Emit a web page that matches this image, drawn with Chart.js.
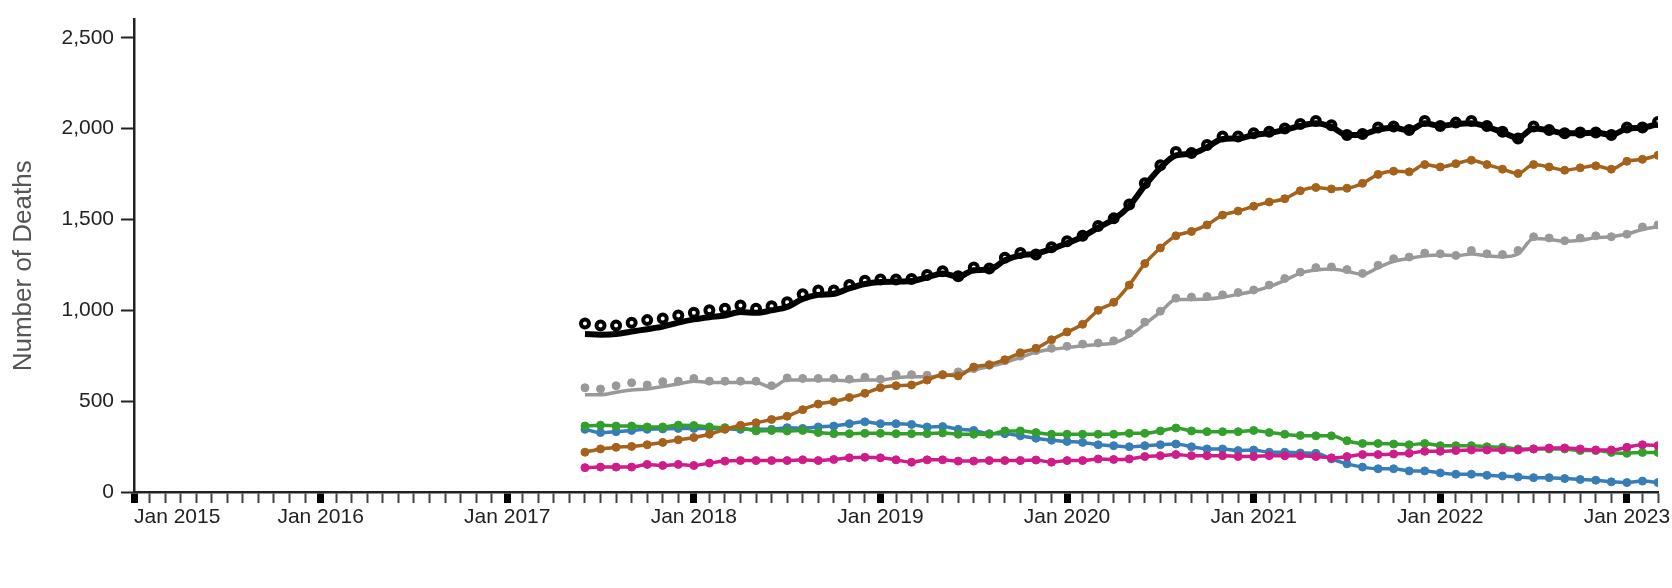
<!DOCTYPE html>
<html>
<head>
<meta charset="utf-8">
<script src="https://cdn.jsdelivr.net/npm/chart.js@4.4.1/dist/chart.umd.min.js"></script>
<style>
  html, body { margin: 0; padding: 0; background: #fff; }
  #wrap { width: 1672px; height: 588px; }
</style>
</head>
<body>
<div id="wrap"><canvas id="chart" width="1672" height="588"></canvas></div>
<script>
/* monthly deaths, Jun 2017 - Mar 2023 */

const months = [
  "2017-06","2017-07","2017-08","2017-09","2017-10","2017-11","2017-12",
  "2018-01","2018-02","2018-03","2018-04","2018-05","2018-06","2018-07","2018-08","2018-09","2018-10","2018-11","2018-12",
  "2019-01","2019-02","2019-03","2019-04","2019-05","2019-06","2019-07","2019-08","2019-09","2019-10","2019-11","2019-12",
  "2020-01","2020-02","2020-03","2020-04","2020-05","2020-06","2020-07","2020-08","2020-09","2020-10","2020-11","2020-12",
  "2021-01","2021-02","2021-03","2021-04","2021-05","2021-06","2021-07","2021-08","2021-09","2021-10","2021-11","2021-12",
  "2022-01","2022-02","2022-03","2022-04","2022-05","2022-06","2022-07","2022-08","2022-09","2022-10","2022-11","2022-12",
  "2023-01","2023-02","2023-03"
];

const totalReported = [
  928, 917, 917, 932, 946, 955, 971, 986, 1000, 1008, 1026, 1008, 1022, 1044, 1089, 1109, 1109, 1139, 1163, 1170, 1170, 1172, 1194, 1215,
  1188, 1235, 1230, 1289, 1315, 1307, 1347, 1380, 1410, 1464, 1506, 1582, 1699, 1798, 1871, 1866, 1910, 1957, 1957, 1975, 1983, 2001, 2025,
  2042, 2019, 1965, 1970, 2006, 2011, 1993, 2042, 2015, 2033, 2042, 2015, 1983, 1946, 2011, 1992, 1975, 1979, 1979, 1965, 2006, 2006, 2037
];
const totalPredicted = [
  869, 866, 869, 883, 896, 910, 932, 950, 962, 971, 990, 986, 1000, 1018, 1062, 1085, 1091, 1121, 1145, 1156, 1158, 1161, 1181, 1203,
  1185, 1221, 1224, 1275, 1302, 1311, 1338, 1369, 1405, 1455, 1501, 1573, 1686, 1784, 1853, 1862, 1898, 1943, 1946, 1965, 1975, 1993, 2015,
  2030, 2010, 1965, 1968, 1995, 2005, 1990, 2030, 2015, 2025, 2030, 2010, 1980, 1950, 2000, 1990, 1975, 1975, 1978, 1965, 2000, 2005, 2025
];
const brownSeries = [
  219, 237, 246, 251, 260, 273, 287, 300, 318, 345, 367, 381, 399, 417, 453, 484, 498, 520, 543, 574, 585, 589, 616, 645,
  639, 688, 701, 728, 766, 791, 838, 881, 923, 1000, 1044, 1139, 1257, 1343, 1410, 1434, 1470, 1524, 1546, 1573, 1596, 1614, 1658,
  1676, 1668, 1672, 1699, 1748, 1766, 1762, 1802, 1789, 1807, 1826, 1802, 1777, 1753, 1802, 1789, 1771, 1784, 1795, 1777, 1820, 1831, 1853
];
const grayReported = [
  574, 567, 585, 601, 589, 607, 610, 625, 610, 610, 610, 610, 585, 628, 625, 625, 625, 621, 632, 621, 646, 646, 643, 646,
  661, 679, 697, 722, 748, 778, 791, 802, 814, 820, 832, 874, 935, 995, 1067, 1073, 1076, 1085, 1098, 1112, 1139, 1175, 1210,
  1235, 1239, 1224, 1203, 1248, 1284, 1293, 1315, 1311, 1302, 1329, 1311, 1307, 1329, 1405, 1398, 1383, 1398, 1410, 1405, 1419, 1459, 1470
];
const grayPredicted = [
  535, 535, 549, 562, 567, 580, 594, 610, 603, 603, 603, 603, 576, 616, 616, 616, 616, 612, 616, 616, 628, 634, 634, 638,
  655, 672, 690, 712, 740, 770, 785, 795, 805, 812, 820, 860, 925, 990, 1060, 1060, 1062, 1072, 1088, 1105, 1130, 1165, 1205,
  1222, 1228, 1215, 1198, 1235, 1270, 1285, 1300, 1305, 1300, 1310, 1300, 1295, 1310, 1395, 1390, 1380, 1385, 1400, 1405, 1420, 1445, 1460
];
const greenSeries = [
  363, 368, 363, 363, 358, 358, 368, 366, 358, 354, 354, 336, 339, 336, 339, 327, 321, 321, 323, 323, 321, 321, 321, 325,
  318, 318, 318, 336, 336, 327, 318, 318, 318, 318, 318, 323, 323, 336, 352, 336, 332, 332, 332, 339, 327, 318, 311,
  309, 309, 282, 267, 267, 264, 260, 267, 255, 255, 255, 249, 246, 237, 237, 237, 237, 228, 228, 218, 213, 218, 218
];
const blueSeries = [
  345, 327, 332, 339, 345, 347, 350, 350, 350, 347, 345, 345, 345, 354, 350, 358, 363, 376, 386, 376, 376, 372, 358, 360,
  345, 339, 321, 321, 309, 296, 285, 278, 273, 260, 255, 249, 255, 260, 264, 249, 237, 237, 228, 231, 219, 219, 215,
  213, 182, 155, 137, 128, 128, 116, 116, 105, 98, 98, 92, 88, 83, 79, 79, 74, 69, 65, 56, 52, 60, 52
];
const pinkSeries = [
  134, 137, 137, 137, 152, 146, 152, 146, 159, 170, 173, 173, 173, 173, 177, 173, 179, 188, 191, 188, 177, 164, 177, 177,
  170, 170, 173, 173, 173, 176, 164, 173, 173, 182, 179, 182, 195, 200, 206, 200, 200, 200, 195, 195, 200, 200, 200,
  195, 188, 195, 206, 206, 209, 213, 224, 224, 228, 231, 231, 231, 231, 237, 242, 242, 237, 231, 231, 246, 260, 255
];

const axisStart = "2015-01";
const axisEnd = "2023-03";
const yTicks = [0, 500, 1000, 1500, 2000, 2500];
const yMax = 2600;
const yTitle = "Number of Deaths";

const FONT = "'Liberation Sans', Arial, sans-serif";

// month string -> months since axis start
function monthIndex(s) {
  const [y, m] = s.split("-").map(Number);
  const [y0, m0] = axisStart.split("-").map(Number);
  return (y - y0) * 12 + (m - m0);
}
const xMax = monthIndex(axisEnd);
const pts = vals => vals.map((v, i) => ({ x: monthIndex(months[i]), y: v }));

function dots(vals, color) {
  return {
    data: pts(vals), showLine: false,
    pointRadius: 4, pointBorderWidth: 1,
    pointBackgroundColor: color, pointBorderColor: color
  };
}
function line(vals, color, width) {
  return {
    data: pts(vals), borderColor: color, borderWidth: width,
    pointRadius: 0, cubicInterpolationMode: "monotone"
  };
}
function lineDots(vals, color) {
  return Object.assign(line(vals, color, 3.5), {
    pointRadius: 4, pointBorderWidth: 1,
    pointBackgroundColor: color, pointBorderColor: color
  });
}

const c = {
  black: "#000000", brown: "#a6611a", gray: "#999999",
  green: "#33a02c", blue: "#377eb8", pink: "#d01c8b"
};

// first dataset is drawn last (on top)
const datasets = [
  {
    data: pts(totalReported), showLine: false,
    pointRadius: 4, pointBorderWidth: 4,
    pointBackgroundColor: "rgba(0,0,0,0)", pointBorderColor: c.black
  },
  line(totalPredicted, c.black, 6),
  lineDots(brownSeries, c.brown),
  dots(grayReported, c.gray),
  line(grayPredicted, c.gray, 3.5),
  lineDots(pinkSeries, c.pink),
  lineDots(greenSeries, c.green),
  lineDots(blueSeries, c.blue)
];

// rotated y-axis title, placed like the original (a bit below the axis middle)
const yTitlePlugin = {
  id: "yTitle",
  afterDraw(chart) {
    const ctx = chart.ctx;
    ctx.save();
    ctx.translate(24, chart.chartArea.top + (chart.chartArea.bottom - chart.chartArea.top) / 2 + 10);
    ctx.rotate(-Math.PI / 2);
    ctx.font = "26px " + FONT;
    ctx.fillStyle = "#555";
    ctx.textAlign = "center";
    ctx.textBaseline = "middle";
    ctx.fillText(yTitle, 0, 0);
    ctx.restore();
  }
};

new Chart(document.getElementById("chart"), {
  type: "line",
  data: { datasets },
  plugins: [yTitlePlugin],
  options: {
    responsive: false,
    animation: false,
    devicePixelRatio: 1,
    layout: { padding: { left: 0, right: 14, top: 12, bottom: 0 } },
    plugins: { legend: { display: false }, tooltip: { enabled: false } },
    scales: {
      x: {
        type: "linear", min: 0, max: xMax,
        afterBuildTicks: s => {
          const t = [];
          for (let v = 0; v <= xMax; v++) t.push({ value: v });
          s.ticks = t;
        },
        afterFit: s => { s.height = 96; },
        ticks: {
          autoSkip: false, maxRotation: 0, align: "inner", padding: 2,
          color: "#222", font: { family: FONT, size: 21 },
          callback: v => (v % 12 === 0 ? "Jan " + (Number(axisStart.slice(0, 4)) + v / 12) : "")
        },
        grid: {
          drawOnChartArea: false, drawTicks: true, tickLength: 11,
          tickWidth: ctx => (ctx.tick && ctx.tick.value % 12 === 0 ? 7 : 2),
          tickColor: ctx => (ctx.tick && ctx.tick.value % 12 === 0 ? "#000" : "#444")
        },
        border: { display: true, color: "#222", width: 2.5 }
      },
      y: {
        min: 0, max: yMax,
        afterBuildTicks: s => { s.ticks = yTicks.map(v => ({ value: v })); },
        afterFit: s => { s.width = 134; },
        ticks: {
          padding: 7, color: "#222", font: { family: FONT, size: 21 },
          callback: v => v.toLocaleString("en-US")
        },
        grid: { drawOnChartArea: false, drawTicks: true, tickLength: 13, tickWidth: 2, tickColor: "#222" },
        border: { display: true, color: "#222", width: 2.5 }
      }
    }
  }
});
</script>
</body>
</html>
